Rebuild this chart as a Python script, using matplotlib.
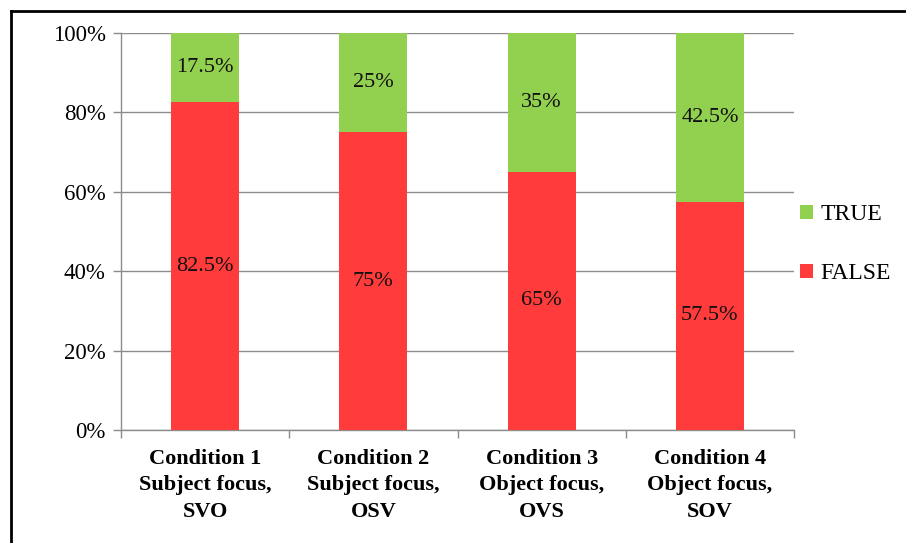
import matplotlib
matplotlib.use("Agg")
import matplotlib.pyplot as plt
from matplotlib.lines import Line2D
from matplotlib.ticker import FixedLocator, FuncFormatter
import numpy as np

categories = ["Condition 1\nSubject focus,\nSVO",
              "Condition 2\nSubject focus,\nOSV",
              "Condition 3\nObject focus,\nOVS",
              "Condition 4\nObject focus,\nSOV"]
false_vals = [82.5, 75, 65, 57.5]
true_vals = [17.5, 25, 35, 42.5]
false_labels = ["82.5%", "75%", "65%", "57.5%"]
true_labels = ["17.5%", "25%", "35%", "42.5%"]

RED = "#FF3B3B"
GREEN = "#92D050"
GRID = "#8C8C8C"
serif = "Liberation Serif"

fig = plt.figure(figsize=(9.06, 5.43), dpi=100)
ax = fig.add_axes([121 / 906, 1 - 430 / 543, (794 - 121) / 906, (430 - 33) / 543])

x = np.arange(len(categories))
w = 0.405
b_false = ax.bar(x, false_vals, width=w, color=RED, label="FALSE", zorder=3)
b_true = ax.bar(x, true_vals, width=w, bottom=false_vals, color=GREEN, label="TRUE", zorder=3)

for i in range(len(categories)):
    ax.text(x[i], false_vals[i] / 2, false_labels[i], ha="center", va="center",
            fontsize=16, family=serif, color="#111111", zorder=4)
    ax.text(x[i], false_vals[i] + true_vals[i] / 2, true_labels[i], ha="center", va="center",
            fontsize=16, family=serif, color="#111111", zorder=4)

ax.set_xlim(-0.5, len(categories) - 0.5)
ax.set_ylim(0, 100)
ax.yaxis.set_major_locator(FixedLocator([0, 20, 40, 60, 80, 100]))
ax.yaxis.set_major_formatter(FuncFormatter(lambda v, p: f"{int(v)}%"))
ax.grid(axis="y", color=GRID, linewidth=1.0, zorder=0)

ax.set_xticks(x)
ax.set_xticklabels(categories, fontsize=16, family=serif, fontweight="bold",
                   linespacing=1.43)
ax.xaxis.set_minor_locator(FixedLocator(np.arange(-0.5, len(categories), 1.0)))
ax.tick_params(axis="x", which="major", length=0, pad=13.5)
ax.tick_params(axis="x", which="minor", length=6, color=GRID, width=1.0)
ax.tick_params(axis="y", length=6, color=GRID, width=1.0, labelsize=16.5, pad=5)
for lab in ax.get_yticklabels():
    lab.set_family(serif)

for s in ["top", "right"]:
    ax.spines[s].set_visible(False)
for s in ["left", "bottom"]:
    ax.spines[s].set_color(GRID)
    ax.spines[s].set_linewidth(1.0)

leg = ax.legend(handles=[b_true, b_false], labels=["TRUE", "FALSE"],
                loc="center left", bbox_to_anchor=(0.995, 0.468), frameon=False,
                prop={"family": serif, "size": 17}, handlelength=0.55,
                handleheight=0.55, handletextpad=0.3, labelspacing=1.62,
                borderaxespad=0.0)

# outer frame (left and top edges)
fig.add_artist(Line2D([10.5 / 906, 10.5 / 906], [0, 1 - 11 / 543], transform=fig.transFigure,
                      color="black", linewidth=2.0))
fig.add_artist(Line2D([10.5 / 906, 1], [1 - 11 / 543, 1 - 11 / 543], transform=fig.transFigure,
                      color="black", linewidth=2.0))

fig.savefig("out.png", dpi=100)
